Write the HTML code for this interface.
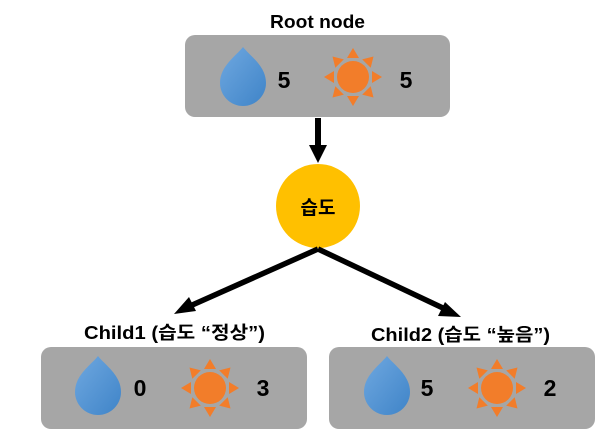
<!DOCTYPE html>
<html><head><meta charset="utf-8"><style>
html,body{margin:0;padding:0;background:#fff;}
svg{display:block;}
text{font-family:"Liberation Sans","Noto Sans CJK KR",sans-serif;font-weight:bold;fill:#000;}
</style></head><body>
<svg width="614" height="443" viewBox="0 0 614 443" xmlns="http://www.w3.org/2000/svg">
<defs>
<linearGradient id="dg" x1="0" y1="0" x2="1" y2="1">
<stop offset="0" stop-color="#6fa8e0"/><stop offset="1" stop-color="#3f84c8"/>
</linearGradient>
<g id="drop"><path d="M0,-33 C7,-24 23,-14 23,3 A23,23 0 0 1 -23,3 C-23,-14 -7,-24 0,-33Z" fill="url(#dg)"/></g>
<g id="sun" fill="#f27d2a">
<circle r="16"/>
<g id="ray"><polygon points="-6,-19 6,-19 0,-29"/></g>
<use href="#ray" transform="rotate(45)"/><use href="#ray" transform="rotate(90)"/><use href="#ray" transform="rotate(135)"/>
<use href="#ray" transform="rotate(180)"/><use href="#ray" transform="rotate(225)"/><use href="#ray" transform="rotate(270)"/><use href="#ray" transform="rotate(315)"/>
</g>
</defs>
<text x="270" y="28" font-size="18" textLength="95" lengthAdjust="spacingAndGlyphs">Root node</text>
<rect x="185" y="35" width="265" height="82" rx="10" fill="#a6a6a6"/>
<use href="#drop" x="243" y="80"/>
<text x="284" y="88" font-size="23" text-anchor="middle">5</text>
<use href="#sun" x="353" y="77"/>
<text x="406" y="88" font-size="23" text-anchor="middle">5</text>

<rect x="315" y="118" width="6" height="28" fill="#000"/>
<polygon points="309,145 327,145 318,163" fill="#000"/>
<circle cx="318" cy="206" r="42" fill="#ffc000"/>
<text x="318" y="214" font-size="19" text-anchor="middle">습도</text>

<line x1="318" y1="249" x2="190" y2="306" stroke="#000" stroke-width="5.5"/>
<polygon points="174,314 189,297 196,311" fill="#000"/>
<line x1="318" y1="249" x2="445" y2="309" stroke="#000" stroke-width="5.5"/>
<polygon points="461,317 438,316 445,302" fill="#000"/>

<text x="84" y="339" font-size="18" textLength="181" lengthAdjust="spacingAndGlyphs">Child1 (습도 “정상”)</text>
<rect x="41" y="347" width="266" height="82" rx="10" fill="#a6a6a6"/>
<use href="#drop" x="98" y="389"/>
<text x="140" y="396" font-size="23" text-anchor="middle">0</text>
<use href="#sun" x="210" y="388"/>
<text x="263" y="396" font-size="23" text-anchor="middle">3</text>

<text x="371" y="341" font-size="18" textLength="179" lengthAdjust="spacingAndGlyphs">Child2 (습도 “높음”)</text>
<rect x="329" y="347" width="266" height="82" rx="10" fill="#a6a6a6"/>
<use href="#drop" x="387" y="389"/>
<text x="427" y="396" font-size="23" text-anchor="middle">5</text>
<use href="#sun" x="497" y="388"/>
<text x="550" y="396" font-size="23" text-anchor="middle">2</text>
</svg>
</body></html>
